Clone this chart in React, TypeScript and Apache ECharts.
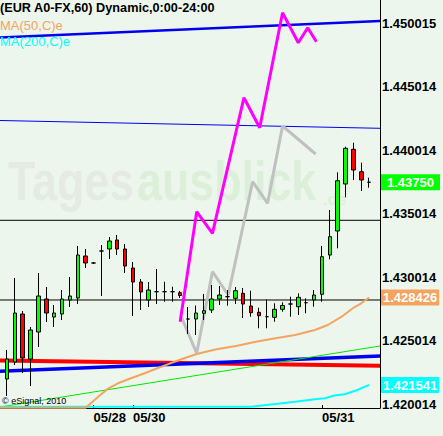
import React, { useEffect, useRef } from 'react';
import * as echarts from 'echarts';

// ---- candle data (index k = candle position) ----
const opens = [1.422006, 1.423345, 1.427124, 1.423581, 1.425707, 1.428305, 1.426888, 1.427124, 1.428227, 1.428384, 1.431691, 1.43114, 1.432085, 1.432242, 1.432951, 1.432242, 1.430746, 1.429644, 1.428227, 1.42888, 1.42888, 1.42888, 1.428801, 1.42673, 1.42673, 1.427179, 1.427439, 1.428305, 1.428487, 1.42836, 1.428754, 1.427754, 1.427258, 1.426912, 1.426864, 1.427494, 1.427912, 1.427699, 1.428014, 1.428227, 1.428675, 1.43177, 1.43366, 1.437361, 1.440093, 1.438329, 1.4375];
const closes = [1.423581, 1.427203, 1.42366, 1.425864, 1.428541, 1.427203, 1.427203, 1.428305, 1.428541, 1.43177, 1.43114, 1.43114, 1.432085, 1.432872, 1.432242, 1.430904, 1.429644, 1.428857, 1.429014, 1.42888, 1.42888, 1.42888, 1.428581, 1.42673, 1.427203, 1.427384, 1.428305, 1.42862, 1.428487, 1.428959, 1.427912, 1.427227, 1.42699, 1.426912, 1.427494, 1.427794, 1.427912, 1.428439, 1.428014, 1.42862, 1.431636, 1.433211, 1.43762, 1.440171, 1.438463, 1.437675, 1.4375];
const highs = [1.42429, 1.429959, 1.42736, 1.426101, 1.430353, 1.42925, 1.427833, 1.429014, 1.430038, 1.432479, 1.432242, 1.431219, 1.432557, 1.433187, 1.433345, 1.432636, 1.431219, 1.42988, 1.429644, 1.430667, 1.429667, 1.429274, 1.428935, 1.427675, 1.427794, 1.428699, 1.429408, 1.429329, 1.429014, 1.42925, 1.429171, 1.428959, 1.42762, 1.428282, 1.427967, 1.428045, 1.428487, 1.428754, 1.42836, 1.429014, 1.432479, 1.435313, 1.438282, 1.440297, 1.440612, 1.439038, 1.437857];
const lows = [1.420668, 1.423108, 1.422479, 1.421455, 1.424526, 1.426494, 1.426101, 1.426652, 1.427675, 1.427912, 1.430746, 1.431061, 1.428541, 1.431455, 1.43177, 1.430353, 1.426967, 1.427439, 1.427675, 1.427912, 1.428093, 1.428093, 1.428384, 1.425549, 1.425471, 1.426652, 1.427203, 1.427833, 1.427778, 1.427912, 1.426809, 1.426912, 1.425998, 1.425998, 1.426518, 1.427305, 1.426912, 1.427045, 1.427179, 1.427699, 1.428093, 1.431431, 1.432297, 1.436313, 1.437675, 1.436809, 1.437069];

// ---- x axis ----
const xMin = -0.875;
const xMax = 47.375;
const dateIdx = [11, 16, 40];
const dateLabels = ['05/28', '05/30', '05/31'];

// ---- y axis ----
const yMin = 1.419723;
const yMax = 1.451849;
const yTickValues = [1.420014, 1.425014, 1.430014, 1.435014, 1.440014, 1.445014, 1.450015];
const tagValues = [1.4375, 1.428426, 1.421541];
const tagLabels = ['1.43750', '1.428426', '1.421541'];

// ---- indicator lines ----
const edgeK = [xMin, xMax];
const topBlueV = [1.448896, 1.450195];
const thinBlueV = [1.44236, 1.441746];
const redV = [1.423463, 1.423045];
const blueThickV = [1.422612, 1.423817];
const greenV = [1.419801, 1.424605];
const levelA = [1.434502, 1.434502];
const levelB = [1.428227, 1.428227];

const ma50K = [-0.875, 10, 11.6, 12.9, 14.1, 15.75, 17.5, 19.1, 20.75, 22.5, 24.1, 26.6, 29.1, 31.6, 34.1, 36.6, 39.1, 40.75, 42.5, 44.1, 45, 46];
const ma50V = [1.419746, 1.419746, 1.420612, 1.421274, 1.421668, 1.422061, 1.422455, 1.422849, 1.423242, 1.423636, 1.423975, 1.424345, 1.424605, 1.424943, 1.425211, 1.425471, 1.425864, 1.426258, 1.426912, 1.427652, 1.427967, 1.428426];
const ma200K = [-0.875, 31, 34.1, 36.6, 39.1, 40.4, 41.6, 42.9, 44.5, 46];
const ma200V = [1.419825, 1.419825, 1.420038, 1.420219, 1.420408, 1.420486, 1.420707, 1.420801, 1.42114, 1.421541];

const magentaK = [22, 24.1, 26.1, 30.1, 32.1, 35, 37, 38.2, 39.3];
const magentaV = [1.426518, 1.435179, 1.433479, 1.444156, 1.441794, 1.450849, 1.448486, 1.449668, 1.448565];
const grayK = [22.1, 24.1, 26.1, 28.1, 31.2, 33.1, 35, 39.2];
const grayV = [1.426967, 1.42403, 1.430455, 1.42862, 1.437542, 1.435841, 1.441927, 1.439723];

const FONT = 'Liberation Sans, Arial, sans-serif';

const zip = (ks: number[], vs: number[]) => ks.map((k, i) => [k, vs[i]]);

function lineSeries(ks: number[], vs: number[], color: string, width: number, z = 2) {
  return {
    type: 'line',
    data: zip(ks, vs),
    symbol: 'none',
    silent: true,
    z,
    lineStyle: { color, width },
  };
}

export default function App() {
  const ref = useRef<HTMLDivElement>(null);
  useEffect(() => {
    document.body.style.margin = '0';
    const chart = echarts.init(ref.current!, null, { renderer: 'svg' });
    const candleData = opens.map((o, i) => [i, o, closes[i], lows[i], highs[i]]);
    const option: any = {
      animation: false,
      backgroundColor: '#edf6ed',
      textStyle: { fontFamily: FONT },
      grid: { left: 0, top: 0, width: 386, height: 408, containLabel: false },
      xAxis: {
        type: 'value',
        min: xMin,
        max: xMax,
        splitLine: { show: false },
        axisLine: { show: true, onZero: false, lineStyle: { color: '#000', width: 1 } },
        axisTick: { show: true, inside: true, length: 3, customValues: dateIdx, lineStyle: { color: '#000' } },
        axisLabel: {
          customValues: dateIdx,
          align: 'left',
          margin: 3,
          fontSize: 13,
          fontWeight: 'bold',
          color: '#000',
          fontFamily: FONT,
          formatter: (v: number) => {
            const i = dateIdx.findIndex((d) => Math.abs(d - v) < 1e-6);
            return i >= 0 ? dateLabels[i] : '';
          },
        },
      },
      yAxis: [
        {
          type: 'value',
          position: 'right',
          min: yMin,
          max: yMax,
          splitLine: { show: false },
          axisLine: { show: true, onZero: false, lineStyle: { color: '#000', width: 1 } },
          axisTick: { show: false },
          axisLabel: {
            customValues: yTickValues,
            margin: 2,
            fontSize: 13,
            fontWeight: 'bold',
            color: '#000',
            fontFamily: FONT,
            formatter: (v: number) => {
              const i = yTickValues.findIndex((d) => Math.abs(d - v) < 1e-9);
              return i >= 0 ? yTickValues[i].toFixed(6) : '';
            },
          },
        },
        {
          type: 'value',
          position: 'right',
          min: yMin,
          max: yMax,
          splitLine: { show: false },
          axisLine: { show: false, onZero: false },
          axisTick: { show: false },
          axisLabel: {
            customValues: tagValues,
            margin: 1,
            fontFamily: FONT,
            formatter: (v: number) => {
              const i = tagValues.findIndex((d) => Math.abs(d - v) < 1e-9);
              return i >= 0 ? '{t' + i + '|' + tagLabels[i] + '}' : '';
            },
            rich: {
              t0: { backgroundColor: '#00ff00', color: '#fff', fontWeight: 'bold', fontSize: 13, padding: [2, 6, 1, 6], fontFamily: FONT },
              t1: { backgroundColor: '#f4a460', color: '#fff', fontWeight: 'bold', fontSize: 13, padding: [2, 2, 1, 2], fontFamily: FONT },
              t2: { backgroundColor: '#00ffff', color: '#fff', fontWeight: 'bold', fontSize: 13, padding: [2, 2, 1, 2], fontFamily: FONT },
            },
          },
        },
      ],
      graphic: [
        { type: 'text', x: 8, y: 181, scaleX: 0.8, z: -10, silent: true, style: { text: 'Tages', fill: '#e5eae5', font: 'bold 56px ' + FONT, verticalAlign: 'middle' } },
        { type: 'text', x: 137, y: 181, scaleX: 0.8, z: -10, silent: true, style: { text: 'ausblick', fill: '#dcefd9', font: 'bold 56px ' + FONT, verticalAlign: 'middle' } },
        { type: 'text', x: 323, y: 199, z: -10, silent: true, style: { text: '.de', fill: '#dcefd9', font: 'bold 16px ' + FONT, verticalAlign: 'middle' } },
        { type: 'text', x: 0, y: 8, z: 100, silent: true, style: { text: '(EUR A0-FX,60) Dynamic,0:00-24:00', fill: '#000', font: 'bold 12.7px ' + FONT, verticalAlign: 'middle' } },
        { type: 'text', x: 0, y: 25, z: 100, silent: true, style: { text: 'MA(50,C)e', fill: '#f4a460', font: '13px ' + FONT, verticalAlign: 'middle' } },
        { type: 'text', x: 0, y: 41, z: 100, silent: true, style: { text: 'MA(200,C)e', fill: '#00ffff', font: '13px ' + FONT, verticalAlign: 'middle' } },
        { type: 'text', x: 2, y: 401, z: 100, silent: true, style: { text: '\u00a9 eSignal, 2010', fill: '#000', font: '9px ' + FONT, verticalAlign: 'middle' } },
      ],
      series: [
        lineSeries(edgeK, topBlueV, '#0000ee', 2.5),
        lineSeries(edgeK, thinBlueV, '#0000ee', 1),
        lineSeries(edgeK, levelA, '#000000', 1),
        lineSeries(edgeK, levelB, '#000000', 1),
        lineSeries(edgeK, redV, '#ff0000', 4),
        lineSeries(edgeK, blueThickV, '#0000ee', 3.5),
        lineSeries(edgeK, greenV, '#00e600', 1),
        lineSeries(ma200K, ma200V, '#00ffff', 2),
        lineSeries(ma50K, ma50V, '#f4a460', 2),
        lineSeries(grayK, grayV, '#c0c0c0', 3),
        lineSeries(magentaK, magentaV, '#ff00ff', 3),
        {
          type: 'candlestick',
          data: candleData,
          barWidth: 4,
          silent: true,
          z: 5,
          itemStyle: {
            color: '#00ff00',
            color0: '#ff0000',
            borderColor: '#000',
            borderColor0: '#000',
            borderColorDoji: '#000',
            borderWidth: 1,
          },
        },
      ],
    };
    chart.setOption(option);
    return () => chart.dispose();
  }, []);
  return <div ref={ref} style={{ width: 443, height: 436 }} />;
}
